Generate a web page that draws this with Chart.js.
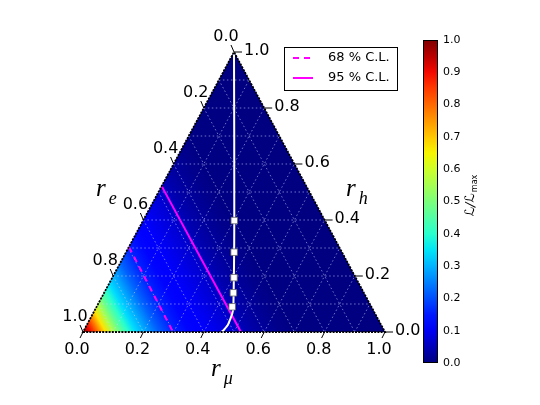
<!DOCTYPE html>
<html>
<head>
<meta charset="utf-8">
<script src="https://cdn.jsdelivr.net/npm/chart.js@4.4.0/dist/chart.umd.min.js"></script>
<style>
  html, body { margin: 0; padding: 0; background: #fff; }
</style>
</head>
<body>
<canvas id="ternaryChart" width="540" height="405"></canvas>
<script>
// tick values on the three ternary axes and the colour bar
var axisTicks = [0.0, 0.2, 0.4, 0.6, 0.8, 1.0];
var gridSteps = [0.1, 0.2, 0.3, 0.4, 0.5, 0.6, 0.7, 0.8, 0.9];

// L/Lmax, versus distance from the r_e = 1 corner (1 - r_e)
var profileDist = [0.000, 0.025, 0.050, 0.075, 0.100, 0.125, 0.150, 0.175, 0.200, 0.225,
                   0.250, 0.275, 0.300, 0.325, 0.350, 0.375, 0.400, 0.425, 0.450, 0.475,
                   0.500, 0.525, 0.550, 0.575, 0.600, 0.650, 0.700, 1.000];
var profileL    = [1.00, 0.90, 0.79, 0.67, 0.56, 0.47, 0.40, 0.34, 0.30, 0.26,
                   0.22, 0.19, 0.16, 0.145, 0.13, 0.12, 0.11, 0.10, 0.09, 0.08,
                   0.07, 0.055, 0.04, 0.032, 0.025, 0.012, 0.004, 0.0];

// confidence contours (r_mu, r_h)
var cl68Mu = [0.0, 0.298];
var cl68H  = [0.304, 0.0];
var cl95Mu = [0.0, 0.523];
var cl95H  = [0.521, 0.0];

// white flavour track and its markers (r_mu, r_h)
var trackMu = [0.0, 0.302, 0.453, 0.461, 0.465, 0.467, 0.464, 0.462, 0.457];
var trackH  = [1.0, 0.398, 0.090, 0.067, 0.043, 0.025, 0.013, 0.005, 0.0];
var markMu  = [0.302, 0.358, 0.403, 0.428, 0.449];
var markH   = [0.398, 0.285, 0.194, 0.140, 0.090];

function toXY(mu, h) {
    var pts = [];
    for (var i = 0; i < mu.length; i++) {
        pts.push({ x: mu[i] + h[i] / 2, y: h[i] });
    }
    return pts;
}

// matplotlib "jet"
function jet(v) {
    function seg(p) {
        for (var i = 1; i < p.length; i++) {
            if (v <= p[i][0]) {
                var t = (v - p[i - 1][0]) / (p[i][0] - p[i - 1][0]);
                return p[i - 1][1] + t * (p[i][1] - p[i - 1][1]);
            }
        }
        return p[p.length - 1][1];
    }
    var r = seg([[0, 0], [0.35, 0], [0.66, 1], [0.89, 1], [1, 0.5]]);
    var g = seg([[0, 0], [0.125, 0], [0.375, 1], [0.64, 1], [0.91, 0], [1, 0]]);
    var b = seg([[0, 0.5], [0.11, 1], [0.34, 1], [0.65, 0], [1, 0]]);
    return 'rgb(' + Math.round(r * 255) + ',' + Math.round(g * 255) + ',' + Math.round(b * 255) + ')';
}

var ternaryPlugin = {
    id: 'ternary',
    beforeDatasetsDraw: function(chart) {
        var ctx = chart.ctx;
        var xs = chart.scales.x, ys = chart.scales.y;
        function px(mu, h) {
            return [xs.getPixelForValue(mu + h / 2), ys.getPixelForValue(h)];
        }
        var A = px(0, 0), B = px(1, 0), C = px(0, 1);
        ctx.save();
        ctx.beginPath();
        ctx.moveTo(A[0], A[1]); ctx.lineTo(B[0], B[1]); ctx.lineTo(C[0], C[1]);
        ctx.closePath();
        ctx.fillStyle = jet(0);
        ctx.fill();

        // gradient perpendicular to lines of constant r_e
        var dx = C[0] - B[0], dy = C[1] - B[1];
        var t = ((A[0] - B[0]) * dx + (A[1] - B[1]) * dy) / (dx * dx + dy * dy);
        var F = [B[0] + t * dx, B[1] + t * dy];
        var grad = ctx.createLinearGradient(A[0], A[1], F[0], F[1]);
        for (var i = 0; i < profileDist.length; i++) {
            grad.addColorStop(profileDist[i], jet(profileL[i]));
        }
        ctx.fillStyle = grad;
        ctx.fill();

        // dotted grid
        ctx.strokeStyle = 'rgba(210,210,255,0.55)';
        ctx.lineWidth = 1;
        ctx.setLineDash([1.5, 2.5]);
        gridSteps.forEach(function(k) {
            var lines = [
                [px(0, k), px(1 - k, k)],
                [px(k, 0), px(k, 1 - k)],
                [px(0, 1 - k), px(1 - k, 0)]
            ];
            lines.forEach(function(l) {
                ctx.beginPath();
                ctx.moveTo(l[0][0], l[0][1]);
                ctx.lineTo(l[1][0], l[1][1]);
                ctx.stroke();
            });
        });
        ctx.restore();
    },
    afterDatasetsDraw: function(chart) {
        var ctx = chart.ctx;
        var xs = chart.scales.x, ys = chart.scales.y;
        function px(mu, h) {
            return [xs.getPixelForValue(mu + h / 2), ys.getPixelForValue(h)];
        }
        var A = px(0, 0), B = px(1, 0), C = px(0, 1);
        ctx.save();
        // triangle frame
        ctx.strokeStyle = '#000';
        ctx.lineWidth = 1.8;
        ctx.setLineDash([2, 1.2]);
        ctx.beginPath();
        ctx.moveTo(A[0], A[1]); ctx.lineTo(B[0], B[1]); ctx.lineTo(C[0], C[1]);
        ctx.closePath();
        ctx.stroke();
        ctx.setLineDash([]);

        // ticks and tick labels
        ctx.lineWidth = 1;
        ctx.fillStyle = '#000';
        ctx.font = '16px "DejaVu Sans"';
        ctx.textBaseline = 'middle';
        axisTicks.forEach(function(v) {
            var lab = v.toFixed(1);
            // bottom axis: r_mu
            var p = px(v, 0);
            ctx.beginPath(); ctx.moveTo(p[0], p[1]); ctx.lineTo(p[0] - 3, p[1] + 6); ctx.stroke();
            ctx.textAlign = 'center';
            ctx.fillText(lab, p[0] - 6, p[1] + 18);
            // left axis: r_e
            p = px(0, 1 - v);
            ctx.beginPath(); ctx.moveTo(p[0], p[1]); ctx.lineTo(p[0] - 3, p[1] - 7); ctx.stroke();
            ctx.fillText(lab, p[0] - 8, p[1] - 15);
            // right axis: r_h
            p = px(1 - v, v);
            ctx.beginPath(); ctx.moveTo(p[0], p[1]); ctx.lineTo(p[0] + 8, p[1]); ctx.stroke();
            ctx.textAlign = 'left';
            ctx.fillText(lab, p[0] + 10, p[1] - 1);
        });

        // axis titles
        function mathLabel(x, y, sub) {
            ctx.textAlign = 'left';
            ctx.textBaseline = 'alphabetic';
            ctx.font = 'italic 25px "Liberation Serif"';
            ctx.fillText('r', x, y);
            var w = ctx.measureText('r').width;
            ctx.font = 'italic 18px "Liberation Serif"';
            ctx.fillText(sub, x + w + 3, y + 8);
        }
        mathLabel(96, 196, 'e');
        mathLabel(346, 196, 'h');
        mathLabel(211, 376, '\u03bc');

        // legend
        var ds = chart.data.datasets;
        ctx.fillStyle = '#fff';
        ctx.fillRect(284.5, 47.5, 113, 43);
        ctx.strokeStyle = '#000';
        ctx.lineWidth = 1;
        ctx.strokeRect(284.5, 47.5, 113, 43);
        [ds[0], ds[1]].forEach(function(d, i) {
            var yy = 58 + i * 20;
            ctx.strokeStyle = d.borderColor;
            ctx.lineWidth = 2;
            ctx.setLineDash(d.borderDash || []);
            ctx.beginPath(); ctx.moveTo(293, yy); ctx.lineTo(313, yy); ctx.stroke();
            ctx.setLineDash([]);
            ctx.fillStyle = '#000';
            ctx.font = '13px "DejaVu Sans"';
            ctx.textAlign = 'left';
            ctx.textBaseline = 'middle';
            ctx.fillText(d.label, 328, yy);
        });

        // colour bar
        var cb = chart.scales.cb;
        var top = cb.getPixelForValue(1), bot = cb.getPixelForValue(0);
        var right = chart.chartArea.right, left = right - 15;
        var g = ctx.createLinearGradient(0, bot, 0, top);
        for (var s = 0; s <= 20; s++) {
            g.addColorStop(s / 20, jet(s / 20));
        }
        ctx.fillStyle = g;
        ctx.fillRect(left, top, right - left, bot - top);
        ctx.strokeStyle = '#000';
        ctx.lineWidth = 1;
        ctx.strokeRect(left + 0.5, top + 0.5, right - left - 1, bot - top - 1);

        // colour bar title
        ctx.translate(474, 196);
        ctx.rotate(-Math.PI / 2);
        ctx.fillStyle = '#000';
        ctx.textBaseline = 'alphabetic';
        ctx.font = 'italic 13px "DejaVu Sans"';
        var main = '\u2112/\u2112';
        var w1 = ctx.measureText(main).width;
        ctx.font = '8px "DejaVu Sans"';
        var w2 = ctx.measureText('max').width;
        var x0 = -(w1 + w2) / 2;
        ctx.font = 'italic 13px "DejaVu Sans"';
        ctx.textAlign = 'left';
        ctx.fillText(main, x0, 0);
        ctx.font = '8px "DejaVu Sans"';
        ctx.fillText('max', x0 + w1 + 1, 3);
        ctx.restore();
    }
};

document.addEventListener('DOMContentLoaded', function() {
    var ctx = document.getElementById('ternaryChart').getContext('2d');
    var chart = new Chart(ctx, {
        type: 'scatter',
        data: {
            datasets: [{
                label: '68 % C.L.',
                data: toXY(cl68Mu, cl68H),
                showLine: true,
                borderColor: '#ff00ff',
                borderWidth: 2,
                borderDash: [6, 5],
                pointRadius: 0,
                order: 4
            }, {
                label: '95 % C.L.',
                data: toXY(cl95Mu, cl95H),
                showLine: true,
                borderColor: '#ff00ff',
                borderWidth: 2,
                pointRadius: 0,
                order: 3
            }, {
                label: 'track',
                data: toXY(trackMu, trackH),
                showLine: true,
                borderColor: '#ffffff',
                borderWidth: 2,
                tension: 0.3,
                pointRadius: 0,
                order: 2
            }, {
                label: 'markers',
                data: toXY(markMu, markH),
                showLine: false,
                pointStyle: 'rect',
                pointRadius: 4.6,
                pointBackgroundColor: '#ffffff',
                pointBorderColor: '#666666',
                pointBorderWidth: 0.8,
                order: 1
            }]
        },
        options: {
            responsive: false,
            animation: false,
            layout: { padding: { left: 20, top: 40, bottom: 42, right: 42 } },
            plugins: {
                legend: { display: false },
                tooltip: { enabled: false }
            },
            scales: {
                x: { type: 'linear', display: false, min: -63 / 302, max: 355 / 302 },
                y: { type: 'linear', display: false, min: -31 / 280, max: 1 + 12 / 280 },
                cb: {
                    type: 'linear',
                    position: 'right',
                    min: 0,
                    max: 1,
                    grid: { display: false, drawTicks: false },
                    border: { display: false },
                    ticks: {
                        stepSize: 0.1,
                        padding: 5,
                        color: '#000',
                        font: { family: 'DejaVu Sans', size: 11 },
                        callback: function(v) { return v.toFixed(1); }
                    },
                    afterFit: function(scale) { scale.width = 60; }
                }
            }
        },
        plugins: [ternaryPlugin]
    });
});
</script>
</body>
</html>
